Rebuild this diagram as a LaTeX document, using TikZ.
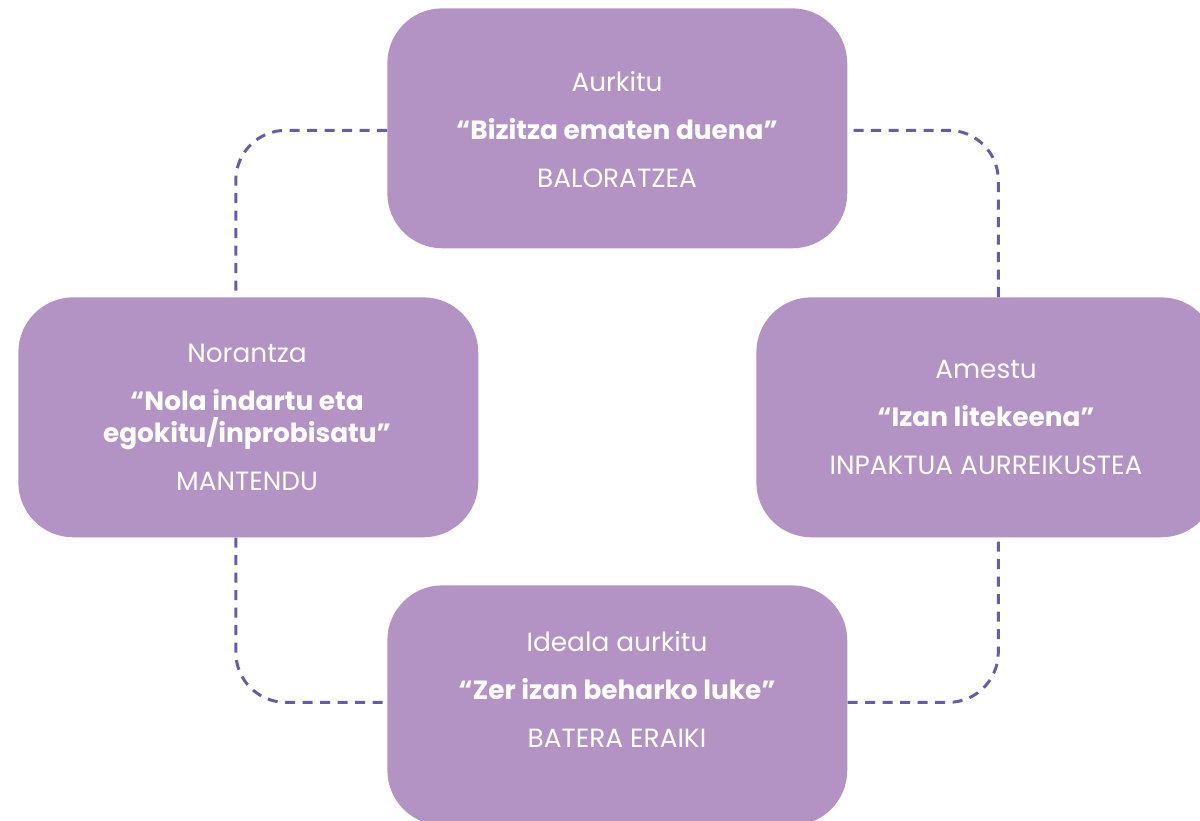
\documentclass[tikz,border=0pt]{standalone}
\usepackage{fontspec}
\setmainfont{Poppins}
\definecolor{boxfill}{HTML}{B393C4}
\definecolor{dashc}{HTML}{6A5BA7}
\begin{document}
\begin{tikzpicture}[x=0.02cm,y=-0.02cm,
  stage/.style={draw=none, fill=boxfill, rounded corners=1.1cm, minimum width=9.2cm, minimum height=4.8cm, inner sep=0pt, anchor=north west},
  txt/.style={text=white, align=center, inner sep=0pt, font=\fontsize{15}{18.2}\selectfont},
  loop/.style={draw=dashc, line width=1.7pt, dash pattern=on 0.2cm off 0.15cm, rounded corners=1cm}]
\useasboundingbox (0,0) rectangle (1200,821);
\clip (0,0) rectangle (1200,821);
\node[stage] (top) at (387,8) {};
\node[stage] (left) at (18,297) {};
\node[stage] (right) at (756,297) {};
\node[stage] (bottom) at (387,585) {};
\draw[loop] ([yshift=-0.04cm]top.west) -| ([xshift=-0.25cm]left.north);
\draw[loop] ([xshift=-0.25cm]left.south) |- ([yshift=0.06cm]bottom.west);
\draw[loop] ([yshift=0.06cm]bottom.east) -| ([xshift=0.24cm]right.south);
\draw[loop] ([xshift=0.24cm]right.north) |- ([yshift=-0.04cm]top.east);
\node[txt] (toptext) at (617,130) {Aurkitu\\[0.32cm]\textbf{“Bizitza ematen duena”}\\[0.32cm]BALORATZEA};
\node[txt] (lefttext) at (247,417) {Norantza\\[0.32cm]\textbf{“Nola indartu eta}\\\textbf{egokitu/inprobisatu”}\\[0.32cm]MANTENDU};
\node[txt] (righttext) at (986,417) {Amestu\\[0.32cm]\textbf{“Izan litekeena”}\\[0.32cm]INPAKTUA AURREIKUSTEA};
\node[txt] (bottomtext) at (617,689) {Ideala aurkitu\\[0.32cm]\textbf{“Zer izan beharko luke”}\\[0.32cm]BATERA ERAIKI};
\end{tikzpicture}
\end{document}
